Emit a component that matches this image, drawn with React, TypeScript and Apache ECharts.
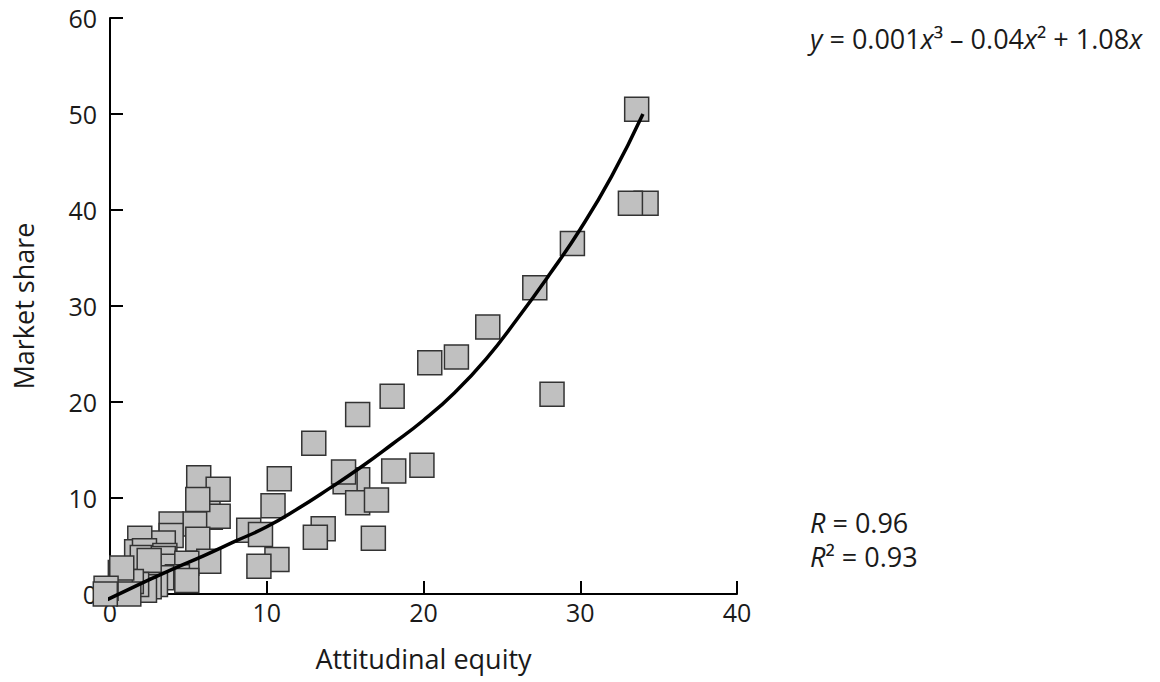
import React, { useEffect, useRef } from "react";
import * as echarts from "echarts";

// Scatter points: [attitudinal equity, market share]
const points: number[][] = [
  [34.2, 40.7], [33.2, 40.7], [33.6, 50.5], [29.5, 36.5], [27.1, 31.9],
  [24.1, 27.8], [22.1, 24.7], [20.4, 24.1], [28.2, 20.8], [18.0, 20.6],
  [15.8, 18.7], [13.0, 15.7], [19.9, 13.4], [18.1, 12.8], [15.8, 11.9],
  [15.0, 11.7], [14.9, 12.7], [15.8, 9.5], [17.0, 9.8], [13.6, 6.8],
  [13.1, 5.9], [16.8, 5.8], [10.8, 12.0], [10.4, 9.2], [8.85, 6.65],
  [9.6, 6.2], [10.65, 3.6], [9.5, 2.9],
  [6.25, 9.6], [6.4, 8.0], [6.9, 8.1], [5.66, 12.1], [6.9, 10.9],
  [5.6, 9.85], [5.4, 7.3], [3.9, 7.3], [3.9, 6.1], [3.4, 5.3],
  [5.6, 5.7], [6.3, 3.4], [1.9, 5.8], [1.7, 4.4], [2.2, 4.5],
  [2.06, 3.8], [3.5, 4.0], [3.4, 3.7], [3.8, 2.9], [4.9, 3.2],
  [4.3, 1.8], [4.9, 1.4], [3.3, 1.7], [2.5, 3.5], [2.9, 1.0],
  [2.5, 0.75], [2.2, 0.4], [1.7, 1.0], [1.36, 1.3], [0.66, 2.25],
  [0.75, 2.7], [1.2, 0.0], [-0.25, 0.6], [-0.3, 0.0],
];

// Fitted curve
const curveX: number[] = [-0.2, 2, 4, 6, 8, 10, 12, 14, 16, 18, 20, 22, 24, 26, 28, 30, 32, 34];
const curveY: number[] = [-0.6, 1.1, 2.6, 4.0, 5.5, 7.0, 8.9, 11.0, 13.2, 15.6, 18.1, 21.0, 24.5, 28.7, 33.2, 38.0, 43.5, 50.0];

const FONT = "'Open Sans', 'Noto Sans', sans-serif";
const TEXT = "#1a1a1a";

export default function App() {
  const ref = useRef<HTMLDivElement>(null);
  useEffect(() => {
    if (!ref.current) return;
    const chart = echarts.init(ref.current, undefined, { renderer: "svg" });
    const curve = curveX.map((x, i) => [x, curveY[i]]);
    chart.setOption({
      animation: false,
      backgroundColor: "#ffffff",
      textStyle: { fontFamily: FONT },
      grid: { left: 110, right: 423, top: 18, bottom: 88, containLabel: false, outerBoundsMode: "none" },
      xAxis: {
        type: "value",
        min: 0,
        max: 40,
        interval: 10,
        name: "Attitudinal equity",
        nameLocation: "middle",
        nameGap: 51,
        nameTextStyle: { fontSize: 27, color: TEXT, fontFamily: FONT },
        axisLine: { show: true, onZero: false, lineStyle: { color: "#000", width: 2 } },
        axisTick: { show: true, inside: true, length: 13, lineStyle: { color: "#000", width: 2 } },
        axisLabel: { fontSize: 25, color: TEXT, margin: 5, fontFamily: FONT },
        splitLine: { show: false },
      },
      yAxis: {
        type: "value",
        min: 0,
        max: 60,
        interval: 10,
        name: "Market share",
        nameLocation: "middle",
        nameGap: 73,
        nameRotate: 90,
        nameTextStyle: { fontSize: 27, color: TEXT, fontFamily: FONT },
        axisLine: { show: true, onZero: false, lineStyle: { color: "#000", width: 2 } },
        axisTick: { show: true, inside: true, length: 13, lineStyle: { color: "#000", width: 2 } },
        axisLabel: { fontSize: 25, color: TEXT, margin: 13, fontFamily: FONT },
        splitLine: { show: false },
      },
      series: [
        {
          type: "scatter",
          data: points,
          symbol: "rect",
          symbolSize: 24,
          clip: false,
          itemStyle: { color: "#c0c0c0", borderColor: "#333333", borderWidth: 1.5, opacity: 1 },
          z: 3,
        },
        {
          type: "line",
          data: curve,
          smooth: true,
          clip: false,
          showSymbol: false,
          symbol: "none",
          lineStyle: { color: "#000", width: 3.5 },
          z: 5,
        },
      ],
      graphic: [
        {
          type: "text",
          left: 810,
          top: 25,
          style: {
            text: "{i|y} = 0.001{i|x}³ – 0.04{i|x}² + 1.08{i|x}",
            fontSize: 27,
            fontFamily: FONT,
            fill: TEXT,
            rich: {
              i: { fontStyle: "italic", fontSize: 27, fontFamily: FONT, fill: TEXT },
            },
          },
        },
        {
          type: "text",
          left: 810,
          top: 505,
          style: {
            text: "{i|R} = 0.96\n{i|R}² = 0.93",
            fontSize: 27,
            lineHeight: 34,
            fontFamily: FONT,
            fill: TEXT,
            rich: {
              i: { fontStyle: "italic", fontSize: 27, lineHeight: 34, fontFamily: FONT, fill: TEXT },
            },
          },
        },
      ],
    });
    return () => chart.dispose();
  }, []);
  return (
    <div
      ref={ref}
      style={{ position: "absolute", left: 0, top: 0, width: 1160, height: 682 }}
    />
  );
}
